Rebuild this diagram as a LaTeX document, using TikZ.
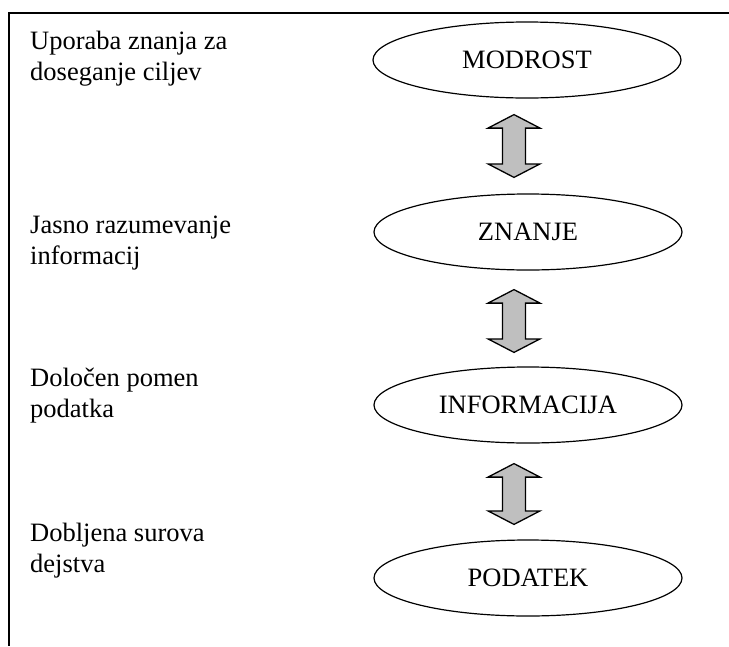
\documentclass[tikz,border=0pt]{standalone}
\usepackage{fontspec}
\setmainfont{Liberation Serif}
\usetikzlibrary{calc,positioning,shapes.geometric}

% block arrow with tips at #1 (top) and #2 (bottom)
\newcommand{\blockarrow}[2]{%
  \draw[link] (#1) -- ($(#1)+(26,13.5)$) -- ($(#1)+(11.5,13.5)$)
    -- ($(#2)+(11.5,-13.5)$) -- ($(#2)+(26,-13.5)$) -- (#2)
    -- ($(#2)+(-26,-13.5)$) -- ($(#2)+(-11.5,-13.5)$)
    -- ($(#1)+(-11.5,13.5)$) -- ($(#1)+(-26,13.5)$) -- cycle;}

\begin{document}
\begin{tikzpicture}[x=1pt,y=-1pt,
  level/.style={draw,ellipse,line width=1.2pt,minimum width=308pt,minimum height=76pt,inner sep=0pt,font=\fontsize{26.5}{31}\selectfont},
  note/.style={anchor=base west,align=left,inner sep=0pt,font=\fontsize{26.5}{31}\selectfont},
  link/.style={draw,fill=gray!50,line width=1.3pt,line join=miter}]
\useasboundingbox (0,0) rectangle (729,646);
% Frame
\draw[line width=2pt] (729,13) -- (9,13) -- (9,646);

% Levels
\node[level] (modrost) at (527,60) {MODROST};
\node[level] (znanje) at (528,232) {ZNANJE};
\node[level] (informacija) at (528,405) {INFORMACIJA};
\node[level] (podatek) at (528,578) {PODATEK};

% Arrows between levels
\coordinate (t1) at ($(modrost.south)+(-13,16)$);
\coordinate (b1) at ($(znanje.north)+(-14,-16)$);
\coordinate (t2) at ($(znanje.south)+(-14,19)$);
\coordinate (b2) at ($(informacija.north)+(-14,-14)$);
\coordinate (t3) at ($(informacija.south)+(-14,20)$);
\coordinate (b3) at ($(podatek.north)+(-14,-15)$);
\blockarrow{t1}{b1}
\blockarrow{t2}{b2}
\blockarrow{t3}{b3}

% Descriptions
\node[note] (d1) at (30,80) {Uporaba znanja za\\doseganje ciljev};
\node[note] (d2) at (30,264) {Jasno razumevanje\\informacij};
\node[note] (d3) at (30,417) {Določen pomen\\podatka};
\node[note] (d4) at (30,572) {Dobljena surova\\dejstva};
\end{tikzpicture}
\end{document}
